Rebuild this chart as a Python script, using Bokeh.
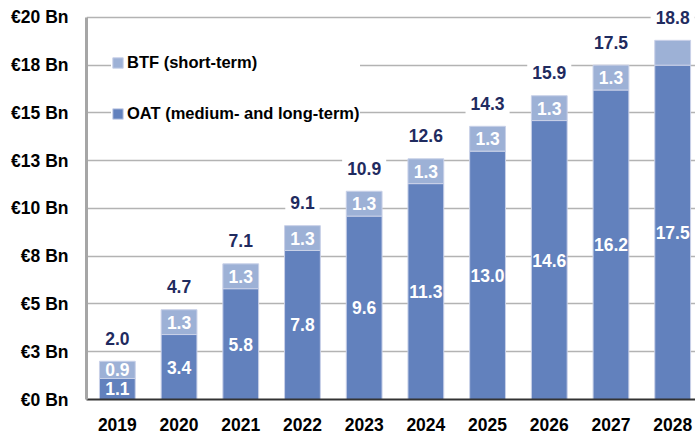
from bokeh.plotting import figure
from bokeh.models import Range1d, FixedTicker, ColumnDataSource, Legend, LegendItem, LabelSet
from bokeh.core.properties import value
from bokeh.embed import file_html
from bokeh.resources import INLINE

years = ["2019", "2020", "2021", "2022", "2023", "2024", "2025", "2026", "2027", "2028"]
oat = [1.1, 3.4, 5.8, 7.8, 9.6, 11.3, 13.0, 14.6, 16.2, 17.5]
btf = [0.9, 1.3, 1.3, 1.3, 1.3, 1.3, 1.3, 1.3, 1.3, 1.3]
totals = [2.0, 4.7, 7.1, 9.1, 10.9, 12.6, 14.3, 15.9, 17.5, 18.8]
oat_labels = ["1.1", "3.4", "5.8", "7.8", "9.6", "11.3", "13.0", "14.6", "16.2", "17.5"]
btf_labels = ["0.9", "1.3", "1.3", "1.3", "1.3", "1.3", "1.3", "1.3", "1.3", ""]
total_labels = ["2.0", "4.7", "7.1", "9.1", "10.9", "12.6", "14.3", "15.9", "17.5", "18.8"]
y_ticks = [0, 2.5, 5, 7.5, 10, 12.5, 15, 17.5, 20]
y_tick_labels = ["€0 Bn", "€3 Bn", "€5 Bn", "€8 Bn", "€10 Bn", "€13 Bn", "€15 Bn", "€18 Bn", "€20 Bn"]

OAT_COLOR = "#6281bd"
BTF_COLOR = "#9db1d6"
NAVY = "#1f2b5f"
FONT = "Liberation Sans"

x = list(range(len(years)))
oat_mid = [o / 2 for o in oat]
btf_mid = [o + b / 2 for o, b in zip(oat, btf)]
btf_top = [o + b for o, b in zip(oat, btf)]

src = ColumnDataSource(dict(x=x, oat=oat, btf=btf, btf_top=btf_top, totals=totals,
                            oat_mid=oat_mid, btf_mid=btf_mid,
                            oat_labels=oat_labels, btf_labels=btf_labels,
                            total_labels=total_labels))

# frame spans the full height above the axis so the top value label is not clipped
p = figure(width=695, height=433, output_backend="svg", toolbar_location=None,
           x_range=Range1d(-0.5, 9.37), y_range=Range1d(0, 20.885),
           min_border_left=86, min_border_right=0, min_border_top=0, min_border_bottom=32)
p.outline_line_color = None
p.background_fill_color = "white"

r_oat = p.vbar(x="x", bottom=0, top="oat", width=0.58, source=src,
               fill_color=OAT_COLOR, line_color="#c9d1e8", line_width=1)
r_btf = p.vbar(x="x", bottom="oat", top="btf_top", width=0.58, source=src,
               fill_color=BTF_COLOR, line_color="#c9d1e8", line_width=1)

txt = dict(text_font=value(FONT), text_font_style="bold", text_font_size="17.5px",
           text_align="center", text_baseline="middle")
p.text(x="x", y="oat_mid", text="oat_labels", source=src, text_color="white", **txt)
p.text(x="x", y="btf_mid", text="btf_labels", source=src, text_color="white", **txt)
p.text(x="x", y="totals", text="total_labels", source=src, text_color=NAVY,
       y_offset=-23, background_fill_color="white", padding=5, **txt)

# axes
p.xaxis.ticker = FixedTicker(ticks=x)
p.xaxis.major_label_overrides = {i: y for i, y in enumerate(years)}
p.xaxis.major_tick_line_color = None
p.xaxis.minor_tick_line_color = None
p.xaxis.axis_line_color = "#333333"
p.xaxis.axis_line_width = 2
p.xaxis.major_label_text_font = FONT
p.xaxis.major_label_text_font_style = "bold"
p.xaxis.major_label_text_font_size = "17.5px"
p.xaxis.major_label_text_color = "black"
p.xaxis.major_label_standoff = 12

p.yaxis.ticker = FixedTicker(ticks=y_ticks)
p.yaxis.bounds = (y_ticks[0], y_ticks[-1])
p.yaxis.major_label_overrides = {t: l for t, l in zip(y_ticks, y_tick_labels)}
p.yaxis.major_tick_line_color = None
p.yaxis.minor_tick_line_color = None
p.yaxis.axis_line_color = "#a6a6a6"
p.yaxis.axis_line_width = 3
p.yaxis.major_label_text_font = FONT
p.yaxis.major_label_text_font_style = "bold"
p.yaxis.major_label_text_font_size = "17.5px"
p.yaxis.major_label_text_color = "black"
p.yaxis.major_label_standoff = 12

p.xgrid.grid_line_color = None
p.ygrid.ticker = FixedTicker(ticks=y_ticks[1:])
p.ygrid.grid_line_color = "#b3b3b3"
p.ygrid.grid_line_width = 1.5

legend = Legend(items=[LegendItem(label="BTF (short-term)", renderers=[r_btf]),
                       LegendItem(label="OAT (medium- and long-term)", renderers=[r_oat])],
                location=(25, 276), orientation="vertical",
                glyph_width=13, glyph_height=13, label_height=20, spacing=31,
                padding=10, margin=0, label_standoff=3,
                label_text_font=FONT, label_text_font_style="bold",
                label_text_font_size="16.5px", label_text_color="black",
                border_line_color=None, background_fill_color="white",
                background_fill_alpha=1.0)
p.add_layout(legend, "center")

open("out.html", "w").write(file_html(p, INLINE))
